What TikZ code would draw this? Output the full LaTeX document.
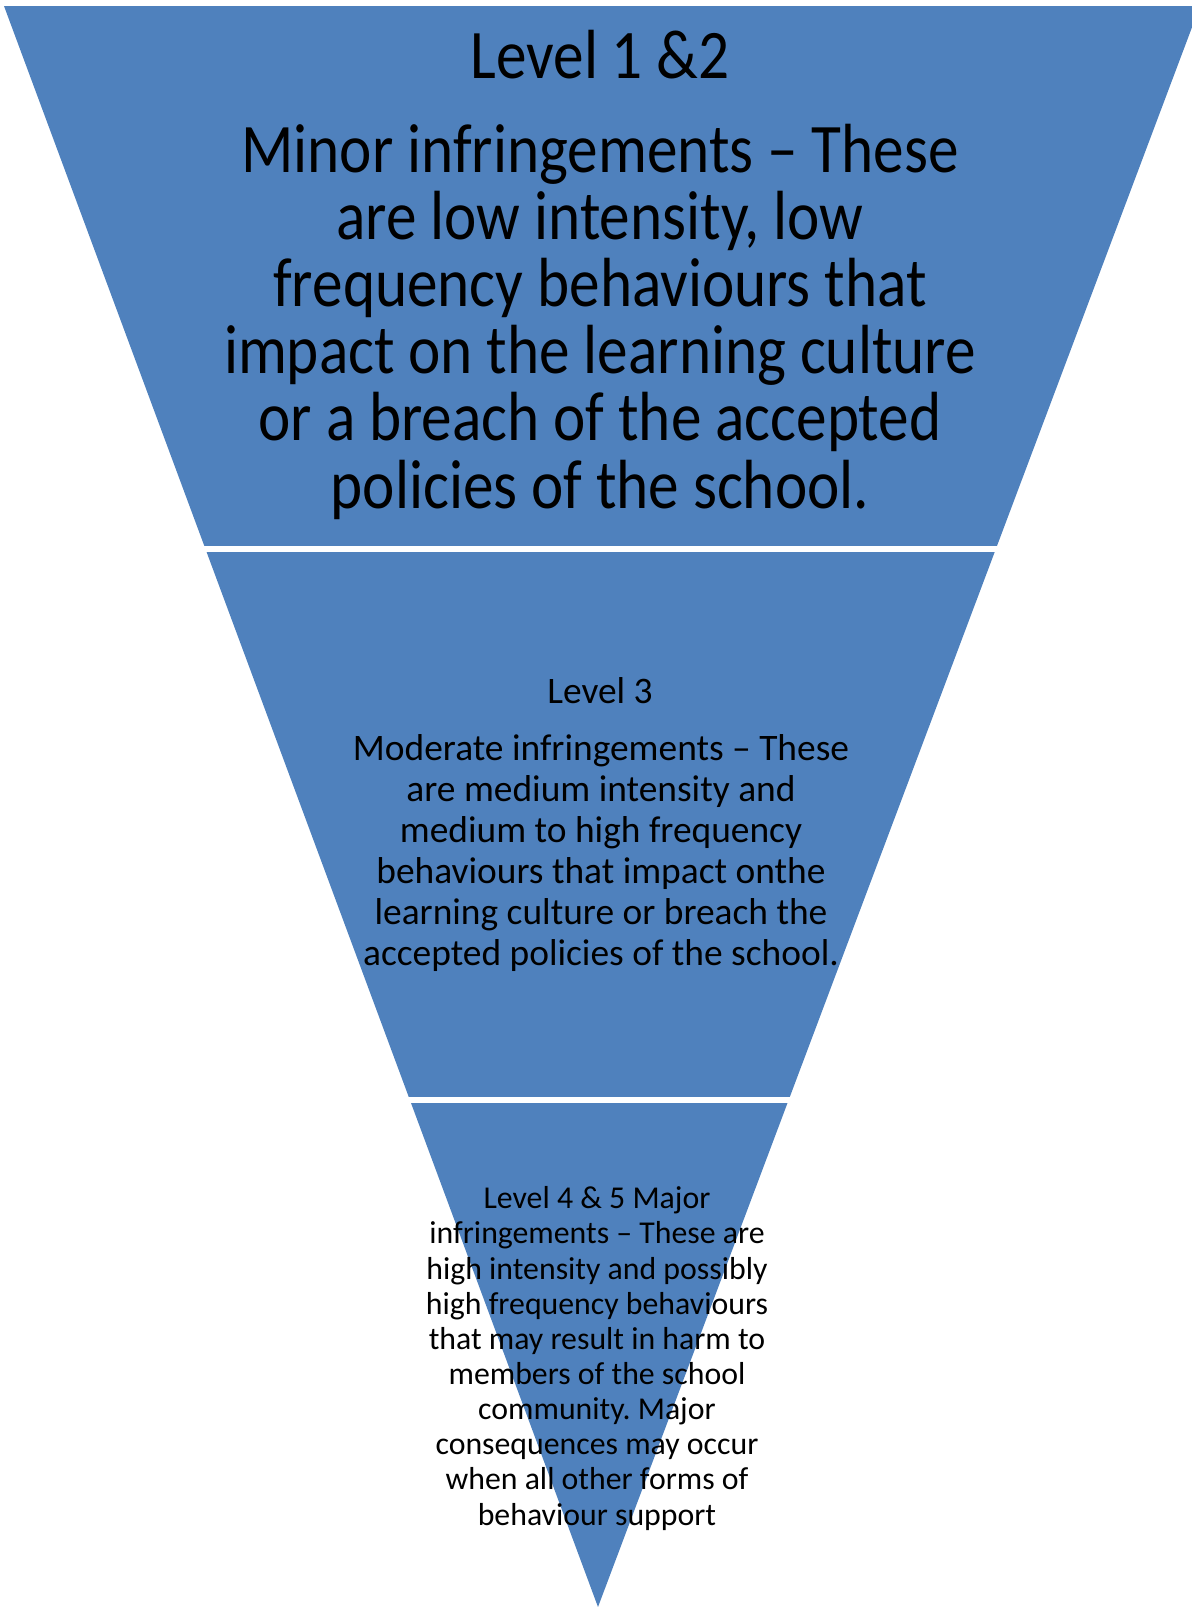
\documentclass[tikz,border=0pt]{standalone}
\usepackage{fontspec}
\setmainfont{Carlito}
\newfontfamily\narrowfont[FakeStretch=0.88]{Carlito}
\frenchspacing

\definecolor{levelblue}{HTML}{4F81BD}

\begin{document}
\begin{tikzpicture}[
    x=0.02cm, y=-0.02cm,
    band/.style={fill=levelblue},
    gap/.style={white, line width=3.4pt},
    head/.style={anchor=base, inner sep=0pt},
    body/.style={anchor=base, inner sep=0pt, align=center}
]
    \useasboundingbox (0,0) rectangle (1192,1607);
    \clip (0,0) rectangle (1192,1607);

    % --- Inverted triangle, cut in three bands ---
    \coordinate (tl) at (4,6);
    \coordinate (tr) at (1200,6);
    \coordinate (tip) at (598,1607);
    \fill[band] (tl) -- (tr) -- (tip) -- cycle;
    \draw[gap] (0,549) -- (1192,549);
    \draw[gap] (0,1100) -- (1192,1100);

    % --- Level 1 & 2 (multi-line nodes sit on their last baseline) ---
    \begin{scope}[every node/.style={font=\narrowfont\fontsize{39.6}{38.2}\selectfont}]
        \node[head] (lvl1) at (600,78) {Level 1 \&2};
        \node[body] (txt1) at (600,508) {Minor infringements – These\\
            are low intensity, low\\
            frequency behaviours that\\
            impact on the learning culture\\
            or a breach of the accepted\\
            policies of the school.};
    \end{scope}

    % --- Level 3 ---
    \begin{scope}[every node/.style={font=\fontsize{21.3}{23.3}\selectfont}]
        \node[head] (lvl3) at (600,703) {Level 3};
        \node[body] (txt3) at (601,965) {Moderate infringements – These\\
            are medium intensity and\\
            medium to high frequency\\
            behaviours that impact onthe\\
            learning culture or breach the\\
            accepted policies of the school.};
    \end{scope}

    % --- Level 4 & 5 ---
    \node[body, font=\fontsize{18.1}{20.0}\selectfont] (txt45) at (597,1525)
        {Level 4 \& 5 Major\\
        infringements – These are\\
        high intensity and possibly\\
        high frequency behaviours\\
        that may result in harm to\\
        members of the school\\
        community. Major\\
        consequences may occur\\
        when all other forms of\\
        behaviour support};

\end{tikzpicture}
\end{document}
